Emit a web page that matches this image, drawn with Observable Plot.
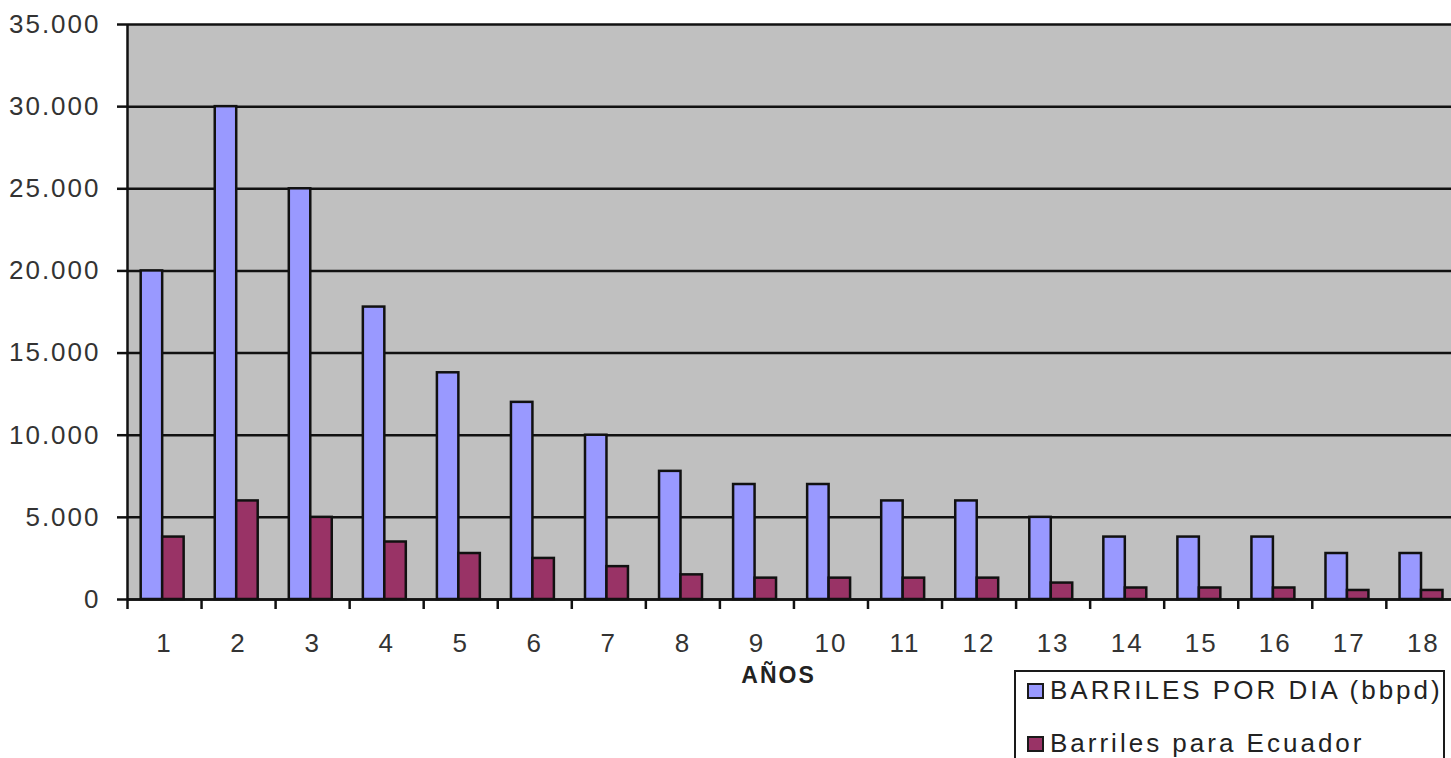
<!DOCTYPE html>
<html>
<head>
<meta charset="utf-8">
<script src="https://cdn.jsdelivr.net/npm/d3@7"></script>
<script src="https://cdn.jsdelivr.net/npm/@observablehq/plot@0.6"></script>
<style>
  body { margin: 0; background: #fff; font-family: "Liberation Sans", Arial, sans-serif; }
  #wrap { position: relative; width: 1451px; height: 758px; overflow: hidden; }
  #legend { position: absolute; left: 1014px; top: 670px; width: 431px; height: 120px;
            border: 2px solid #1a1a1a; background: #fff; box-sizing: border-box; }
  .item { position: absolute; left: 11px; display: flex; align-items: center;
          font-size: 26px; letter-spacing: 3px; color: #222; white-space: nowrap; }
  .sw { width: 13px; height: 12px; border: 2px solid #1a1a1a; margin-right: 6px; flex: none; }
</style>
</head>
<body>
<div id="wrap">
  <div id="chart"></div>
  <div id="legend"></div>
</div>
<script>
// ---- data ----
const years = [1, 2, 3, 4, 5, 6, 7, 8, 9, 10, 11, 12, 13, 14, 15, 16, 17, 18];
const barrilesPorDia = [20000, 30000, 25000, 17800, 13800, 12000, 10000, 7800, 7000, 7000, 6000, 6000, 5000, 3800, 3800, 3800, 2800, 2800];
const barrilesEcuador = [3800, 6000, 5000, 3500, 2800, 2500, 2000, 1500, 1300, 1300, 1300, 1300, 1000, 700, 700, 700, 550, 550];
const seriesNames = ["BARRILES POR DIA (bbpd)", "Barriles para Ecuador"];
const seriesColors = ["#9999FF", "#993366"];
const yTicks = [0, 5000, 10000, 15000, 20000, 25000, 30000, 35000];
const xTitle = "AÑOS";

// ---- table ----
const seriesValues = [barrilesPorDia, barrilesEcuador];
const rows = years.flatMap((yr, i) => seriesValues.map((vals, s) => ({year: yr, series: s, value: vals[i]})));
// position of each bar within its year slot (in year units)
const slot = [[-0.315, -0.025], [-0.025, 0.265]];

const loc = d3.formatLocale({decimal: ",", thousands: ".", grouping: [3], currency: ["", ""]});
const fmt = loc.format(",d");

const chart = Plot.plot({
  width: 1451,
  height: 758,
  marginLeft: 127,
  marginRight: 0,
  marginTop: 24,
  marginBottom: 159,
  style: {fontFamily: "'Liberation Sans', Arial, sans-serif", fontSize: "26px", background: "white", overflow: "visible", color: "#111"},
  x: {type: "linear", domain: [0.5, 18.38], ticks: years.map(y => y - 0.5), tickSize: 10, tickFormat: () => "", label: null},
  y: {domain: [0, 35000], ticks: yTicks, tickSize: 10, tickPadding: 17, tickFormat: fmt, label: null},
  marks: [
    Plot.frame({fill: "#C0C0C0", stroke: "none"}),
    Plot.ruleY(yTicks, {stroke: "#111", strokeWidth: 2.5}),
    Plot.rectY(rows, {
      x1: d => d.year + slot[d.series][0],
      x2: d => d.year + slot[d.series][1],
      y: "value",
      fill: d => seriesColors[d.series],
      stroke: "#111",
      strokeWidth: 2.5
    }),
    Plot.ruleX([0.5], {stroke: "#111", strokeWidth: 2.5}),
    Plot.ruleY([0], {stroke: "#111", strokeWidth: 2.5}),
    Plot.text(years, {x: d => d, frameAnchor: "bottom", dy: 44, fontSize: 26, fill: "#333", lineAnchor: "middle", className: "yr"}),
    Plot.text([xTitle], {frameAnchor: "bottom", dy: 76, dx: -11, fontSize: 23, fontWeight: "bold", fill: "#222", lineAnchor: "middle", className: "ttl"})
  ]
});
document.getElementById("chart").appendChild(chart);
// axis styling: thicker tick marks, wider-spaced labels like the original
chart.querySelectorAll("g[aria-label*='axis'] line, g[aria-label*='axis'] path").forEach(el => el.setAttribute("stroke-width", 2.5));
chart.querySelectorAll("g[aria-label*='y-axis'] text").forEach(el => { el.setAttribute("fill", "#333"); el.style.letterSpacing = "2px"; });
chart.querySelectorAll(".yr text, text.yr, g.yr text").forEach(el => el.style.letterSpacing = "2px");
chart.querySelectorAll(".ttl text, g.ttl text").forEach(el => el.style.letterSpacing = "2px");

// legend
const legend = document.getElementById("legend");
seriesNames.forEach((name, i) => {
  const item = document.createElement("div");
  item.className = "item";
  item.style.top = (i === 0 ? 3 : 56) + "px";
  const sw = document.createElement("span");
  sw.className = "sw";
  sw.style.background = seriesColors[i];
  const t = document.createElement("span");
  t.textContent = name;
  item.appendChild(sw);
  item.appendChild(t);
  legend.appendChild(item);
});
</script>
</body>
</html>
